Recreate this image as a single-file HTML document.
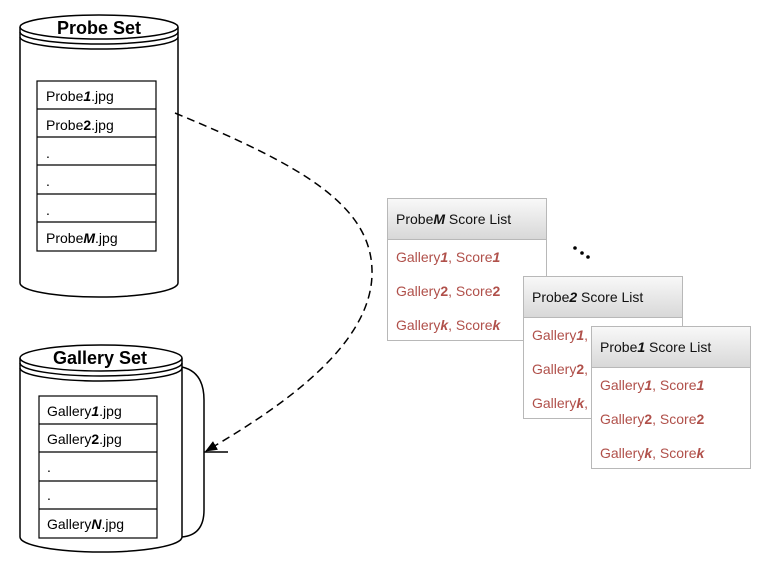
<!DOCTYPE html>
<html><head><meta charset="utf-8"><style>
body{margin:0;background:#fff;width:771px;height:569px;overflow:hidden;position:relative;font-family:"Liberation Sans",sans-serif}
.card{position:absolute;width:160px;height:143px;background:#fff;border:1px solid #b8b8b8;box-sizing:border-box}
.hd{height:40px;border-bottom:1px solid #b8b8b8;background:linear-gradient(#f8f8f8,#d8d8d8);font-size:14px;line-height:40px;padding-left:8px;color:#111}
.r{font-size:14px;color:#b0504a;padding-left:8px;height:34px;line-height:34px}
</style></head><body>
<svg width="771" height="569" style="position:absolute;left:0;top:0" font-family="Liberation Sans, sans-serif">
<defs><marker id="a" markerWidth="12" markerHeight="10" refX="11" refY="5" orient="auto" markerUnits="userSpaceOnUse"><path d="M0,0 L12,5 L0,10z" fill="#000"/></marker></defs>
<g fill="#fff" stroke="#000" stroke-width="1.5">
<path d="M20,27 L20,283 A79,14 0 0 0 178,283 L178,27"/>
<ellipse cx="99" cy="27" rx="79" ry="12"/>
<path d="M20,27 A79,12 0 0 0 178,27" transform="translate(0,5)" fill="none"/>
<path d="M20,27 A79,12 0 0 0 178,27" transform="translate(0,10)" fill="none"/>
<path d="M182,367 Q204,372 204,400 L204,510 Q204,535 182,537" fill="none"/>
<path d="M20,358 L20,537 A81,15 0 0 0 182,537 L182,358"/>
<ellipse cx="101" cy="358" rx="81" ry="13"/>
<path d="M20,358 A81,13 0 0 0 182,358" transform="translate(0,5)" fill="none"/>
<path d="M20,358 A81,13 0 0 0 182,358" transform="translate(0,10)" fill="none"/>
</g>
<text x="99" y="34" font-size="18" font-weight="bold" text-anchor="middle">Probe Set</text>
<text x="100" y="364" font-size="18" font-weight="bold" text-anchor="middle">Gallery Set</text>
<g fill="#fff" stroke="#000" stroke-width="1.2">
<rect x="37" y="81" width="119" height="170"/>
<path d="M37,109H156M37,137H156M37,165H156M37,194H156M37,222H156"/>
<rect x="39" y="396" width="118" height="142"/>
<path d="M39,424H157M39,452H157M39,481H157M39,509H157"/>
</g>
<g font-size="14">
<text x="46" y="101">Probe<tspan font-weight="bold" font-style="italic">1</tspan>.jpg</text>
<text x="46" y="130">Probe<tspan font-weight="bold">2</tspan>.jpg</text>
<text x="46" y="158">.</text><text x="46" y="186">.</text><text x="46" y="215">.</text>
<text x="46" y="243">Probe<tspan font-weight="bold" font-style="italic">M</tspan>.jpg</text>
<text x="47" y="416">Gallery<tspan font-weight="bold" font-style="italic">1</tspan>.jpg</text>
<text x="47" y="444">Gallery<tspan font-weight="bold">2</tspan>.jpg</text>
<text x="47" y="472">.</text><text x="47" y="500">.</text>
<text x="47" y="529">Gallery<tspan font-weight="bold" font-style="italic">N</tspan>.jpg</text>
</g>
<path d="M175,113 C300,165 374,205 372,275 C370,345 285,405 206,451" fill="none" stroke="#000" stroke-width="1.5" stroke-dasharray="8,5" marker-end="url(#a)"/>
<path d="M204,452H228" stroke="#000" stroke-width="1.5"/>
<circle cx="575" cy="248" r="1.8"/><circle cx="582" cy="253" r="1.8"/><circle cx="588" cy="257" r="1.8"/>
</svg>
<div class="card" style="left:387px;top:198px"><div class="hd">Probe<b><i>M</i></b> Score List</div><div class="r">Gallery<b><i>1</i></b>, Score<b><i>1</i></b></div><div class="r">Gallery<b>2</b>, Score<b>2</b></div><div class="r">Gallery<b><i>k</i></b>, Score<b><i>k</i></b></div></div>
<div class="card" style="left:523px;top:276px"><div class="hd">Probe<b><i>2</i></b> Score List</div><div class="r">Gallery<b><i>1</i></b>, Score<b><i>1</i></b></div><div class="r">Gallery<b>2</b>, Score<b>2</b></div><div class="r">Gallery<b><i>k</i></b>, Score<b><i>k</i></b></div></div>
<div class="card" style="left:591px;top:326px"><div class="hd">Probe<b><i>1</i></b> Score List</div><div class="r">Gallery<b><i>1</i></b>, Score<b><i>1</i></b></div><div class="r">Gallery<b>2</b>, Score<b>2</b></div><div class="r">Gallery<b><i>k</i></b>, Score<b><i>k</i></b></div></div>
</body></html>
